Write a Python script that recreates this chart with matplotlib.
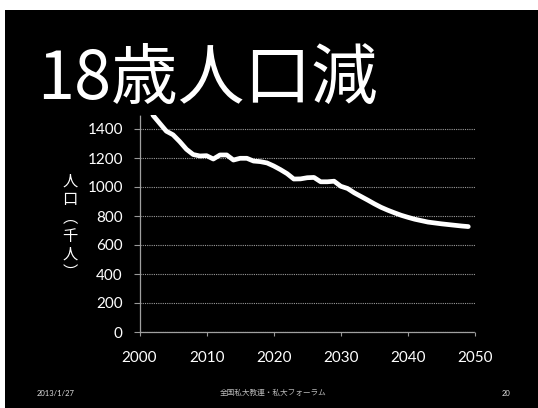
import matplotlib
matplotlib.use("Agg")
import matplotlib.pyplot as plt
from matplotlib.patches import Rectangle

# 18-year-old population (thousands), by year
years = list(range(2002, 2050))
population = [
    1495, 1440, 1385, 1360, 1313, 1260, 1224, 1214, 1216, 1193,
    1221, 1221, 1186, 1198, 1198, 1179, 1175, 1166, 1145, 1120,
    1092, 1055, 1056, 1064, 1066, 1036, 1036, 1040, 1005, 990,
    960, 935, 910, 884, 860, 840, 822, 805, 791, 778,
    768, 758, 752, 746, 741, 736, 731, 727,
]
x_ticks = [2000, 2010, 2020, 2030, 2040, 2050]
y_ticks = [0, 200, 400, 600, 800, 1000, 1200, 1400]

title = "18歳人口減"
y_label = "人\n口\n︵\n千\n人\n︶"
footer_date = "2013/1/27"
footer_center = "全国私大教連・私大フォーラム"
page_no = "20"

W, H = 538, 408
fig = plt.figure(figsize=(W / 100, H / 100), dpi=100, facecolor="white")

# slide background
fig.patches.append(Rectangle((5 / W, 0), 1, (H - 10) / H, transform=fig.transFigure,
                             facecolor="black", edgecolor="none", zorder=-10))

ax = fig.add_axes([139.5 / W, (H - 332) / H, (475 - 139.5) / W, (332 - 114.5) / H])
ax.set_zorder(2)
ax.patch.set_alpha(0)

ax.plot(years, population, color="white", lw=3.4, solid_capstyle="round",
        solid_joinstyle="round", zorder=3, clip_on=True)

ax.set_xlim(2000, 2050)
ax.set_ylim(0, 1500)
ax.set_xticks(x_ticks)
ax.set_yticks(y_ticks)

tick_font = dict(family=["Lato", "DejaVu Sans"], size=11, color="white")
ax.set_xticklabels([str(v) for v in x_ticks], **tick_font)
ax.set_yticklabels([str(v) for v in y_ticks], **tick_font)
ax.tick_params(axis="y", length=4, width=0.8, color="#999999", pad=8)
ax.tick_params(axis="x", length=3, width=0.8, color="#999999", pad=11)

ax.grid(axis="y", linestyle=(0, (1, 1)), color="#9a9a9a", lw=0.8)
for side in ("top", "right"):
    ax.spines[side].set_visible(False)
for side in ("left", "bottom"):
    ax.spines[side].set_color("#a0a0a0")
    ax.spines[side].set_linestyle((0, (1, 1)))
    ax.spines[side].set_linewidth(0.9)

fig.text(37 / W, (H - 99) / H, title, color="white", fontsize=48,
         family=["Noto Sans CJK JP", "DejaVu Sans"], ha="left", va="baseline")

fig.text(70 / W, (H - 227) / H, y_label, color="white", fontsize=11,
         family=["Noto Sans CJK JP", "DejaVu Sans"], ha="center", va="center",
         linespacing=1.1)

fig.text(37 / W, (H - 393) / H, footer_date, color="#dddddd", fontsize=5.5,
         family=["Lato", "DejaVu Sans"], ha="left", va="center")
fig.text(273 / W, (H - 393) / H, footer_center, color="#bbbbbb", fontsize=5.5,
         family=["Noto Sans CJK JP", "DejaVu Sans"], ha="center", va="center")
fig.text(506 / W, (H - 393) / H, page_no, color="#dddddd", fontsize=5.5,
         family=["Lato", "DejaVu Sans"], ha="center", va="center")

fig.savefig("out.png", dpi=100, facecolor=fig.get_facecolor())
